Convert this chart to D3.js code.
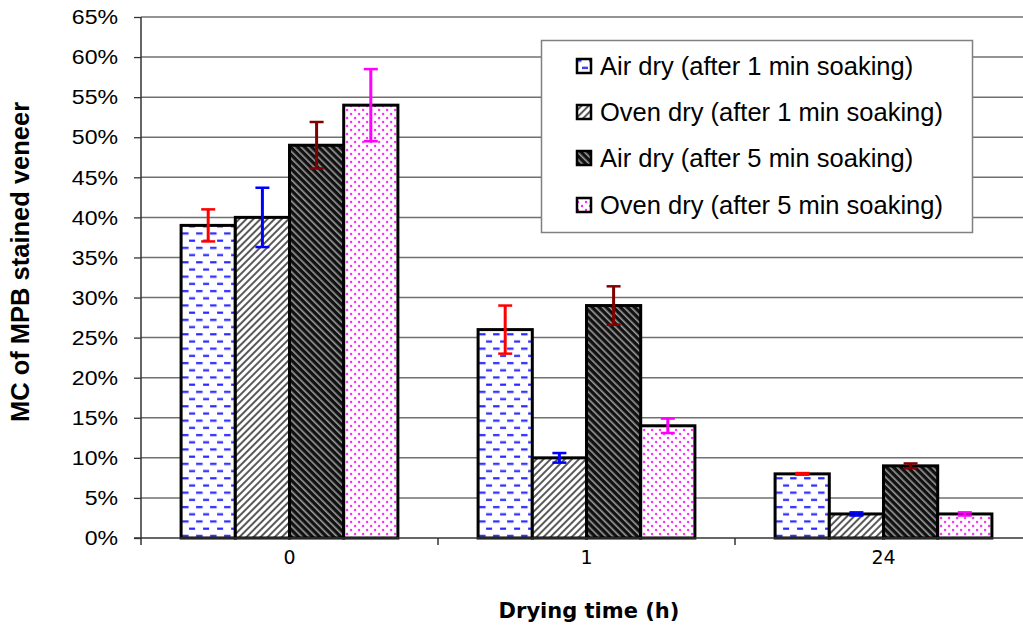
<!DOCTYPE html>
<html><head><meta charset="utf-8">
<script src="https://cdn.jsdelivr.net/npm/d3@7"></script>
<style>body{margin:0;background:#fff}svg{display:block}</style>
</head><body>
<svg id="c" width="1023" height="630"></svg>
<script>
const categories = ["0", "1", "24"];
const seriesNames = ["Air dry (after 1 min soaking)", "Oven dry (after 1 min soaking)", "Air dry (after 5 min soaking)", "Oven dry (after 5 min soaking)"];
const airDry1 = [39, 26, 8];
const ovenDry1 = [40, 10, 3];
const airDry5 = [49, 29, 9];
const ovenDry5 = [54, 14, 3];
const errAirDry1 = [2.0, 3.0, 0.1];
const errOvenDry1 = [3.7, 0.6, 0.2];
const errAirDry5 = [2.9, 2.4, 0.3];
const errOvenDry5 = [4.5, 0.9, 0.2];
const yTicks = [0, 5, 10, 15, 20, 25, 30, 35, 40, 45, 50, 55, 60, 65];

(function(){
const values = [airDry1, ovenDry1, airDry5, ovenDry5];
const errors = [errAirDry1, errOvenDry1, errAirDry5, errOvenDry5];
const errColors = ["#ff0000", "#0000ff", "#800000", "#ff00ff"];
const patIds = ["pDash", "pLight", "pDark", "pDots"];

const svg = d3.select("#c");
const pl = 141, pr = 1032, pt = 17, pb = 538;

// patterns
const defs = svg.append("defs");
let p = defs.append("pattern").attr("id","pDash").attr("patternUnits","userSpaceOnUse").attr("width",14).attr("height",14.4);
p.append("rect").attr("width",14).attr("height",14.4).attr("fill","#fff");
p.append("rect").attr("x",1).attr("y",2).attr("width",6.5).attr("height",2.2).attr("fill","#2a2aff");
p.append("rect").attr("x",8).attr("y",9.2).attr("width",6.5).attr("height",2.2).attr("fill","#2a2aff");

p = defs.append("pattern").attr("id","pLight").attr("patternUnits","userSpaceOnUse").attr("width",5).attr("height",5).attr("patternTransform","rotate(45)");
p.append("rect").attr("width",5).attr("height",5).attr("fill","#fff");
p.append("rect").attr("x",0).attr("y",0).attr("width",2).attr("height",5).attr("fill","#5a5a5a");

p = defs.append("pattern").attr("id","pDark").attr("patternUnits","userSpaceOnUse").attr("width",5).attr("height",5).attr("patternTransform","rotate(-45)");
p.append("rect").attr("width",5).attr("height",5).attr("fill","#111");
p.append("rect").attr("x",0).attr("y",0).attr("width",1.6).attr("height",5).attr("fill","#9a9a9a");

p = defs.append("pattern").attr("id","pDots").attr("patternUnits","userSpaceOnUse").attr("width",8).attr("height",8);
p.append("rect").attr("width",8).attr("height",8).attr("fill","#fff");
p.append("circle").attr("cx",2).attr("cy",2).attr("r",1.2).attr("fill","#ff22ff");
p.append("circle").attr("cx",6).attr("cy",6).attr("r",1.2).attr("fill","#ff22ff");

const y = d3.scaleLinear().domain([0, 65]).range([pb, pt]);
const x0 = d3.scaleBand().domain(categories).range([pl, pr]).paddingInner(0.27).paddingOuter(0.135);
const x1 = d3.scaleBand().domain(d3.range(4)).range([0, x0.bandwidth()]);

// gridlines
svg.append("g").selectAll("line").data(yTicks.filter(d => d > 0)).join("line")
  .attr("x1", pl).attr("x2", 1023).attr("y1", d => y(d)).attr("y2", d => y(d))
  .attr("stroke", "#707070").attr("stroke-width", 1.5);

// y axis
const yAxis = svg.append("g").attr("transform", `translate(${pl},0)`)
  .call(d3.axisLeft(y).tickValues(yTicks).tickFormat(d => d + "%").tickSize(7).tickPadding(8));
yAxis.select(".domain").remove();
yAxis.selectAll(".tick line").attr("stroke", "#333").attr("stroke-width", 1.3);
yAxis.selectAll(".tick text").attr("font-family", "Liberation Sans, Arial, sans-serif").attr("font-size", 21).attr("fill", "#000")
  .attr("transform", "scale(1.1,1)").attr("x", -23/1.1);
svg.append("line").attr("x1", pl).attr("x2", pl).attr("y1", pt).attr("y2", pb + 7).attr("stroke", "#333").attr("stroke-width", 1.5);

// bars
const groups = svg.append("g").selectAll("g").data(categories).join("g")
  .attr("transform", d => `translate(${x0(d)},0)`);
groups.selectAll("rect").data((c, ci) => values.map((v, si) => ({si, v: v[ci]}))).join("rect")
  .attr("x", d => x1(d.si)).attr("y", d => y(d.v))
  .attr("width", x1.bandwidth()).attr("height", d => y(0) - y(d.v))
  .attr("fill", d => `url(#${patIds[d.si]})`).attr("stroke", "#000").attr("stroke-width", 3);

// error bars
groups.each(function(c, ci) {
  const g = d3.select(this);
  values.forEach((v, si) => {
    const cx = x1(si) + x1.bandwidth() / 2;
    const hi = y(v[ci] + errors[si][ci]), lo = y(v[ci] - errors[si][ci]);
    const col = errColors[si];
    g.append("line").attr("x1", cx).attr("x2", cx).attr("y1", hi).attr("y2", lo).attr("stroke", col).attr("stroke-width", 3);
    g.append("line").attr("x1", cx - 7).attr("x2", cx + 7).attr("y1", hi).attr("y2", hi).attr("stroke", col).attr("stroke-width", 2.5);
    g.append("line").attr("x1", cx - 7).attr("x2", cx + 7).attr("y1", lo).attr("y2", lo).attr("stroke", col).attr("stroke-width", 2.5);
  });
});

// x axis
svg.append("line").attr("x1", pl - 7).attr("x2", 1023).attr("y1", pb).attr("y2", pb).attr("stroke", "#333").attr("stroke-width", 1.5);
const xb = categories.map(c => x0(c) - x0.step() * x0.paddingInner() / 2);
svg.append("g").selectAll("line").data(xb.slice(1)).join("line")
  .attr("x1", d => d).attr("x2", d => d).attr("y1", pb).attr("y2", pb + 7)
  .attr("stroke", "#333").attr("stroke-width", 1.5);
svg.append("g").selectAll("text").data(categories).join("text")
  .attr("x", d => x0(d) + x0.bandwidth() / 2).attr("y", 564)
  .attr("text-anchor", "middle").attr("font-family", "DejaVu Sans, sans-serif").attr("font-size", 19)
  .text(d => d);

// axis titles
svg.append("text").attr("x", 589).attr("y", 618).attr("text-anchor", "middle")
  .attr("font-family", "DejaVu Sans, sans-serif").attr("font-weight", "bold").attr("font-size", 21)
  .text("Drying time (h)");
svg.append("text").attr("transform", "translate(29,262) rotate(-90)").attr("text-anchor", "middle")
  .attr("font-family", "Liberation Sans, Arial, sans-serif").attr("font-weight", "bold").attr("font-size", 25.5)
  .text("MC of MPB stained veneer");

// legend
const lg = svg.append("g");
lg.append("rect").attr("x", 541.5).attr("y", 40.5).attr("width", 431).attr("height", 192)
  .attr("fill", "#fff").attr("stroke", "#808080").attr("stroke-width", 1.5);
const rowsY = [66, 112, 158, 205];
seriesNames.forEach((name, i) => {
  lg.append("rect").attr("x", 577).attr("y", rowsY[i] - 7).attr("width", 14).attr("height", 14)
    .attr("fill", `url(#${patIds[i]})`).attr("stroke", "#000").attr("stroke-width", 2.5);
  lg.append("text").attr("x", 600).attr("y", rowsY[i] + 9).attr("font-family", "Liberation Sans, Arial, sans-serif")
    .attr("font-size", 25.5).text(name);
});
})();
</script>
</body></html>
